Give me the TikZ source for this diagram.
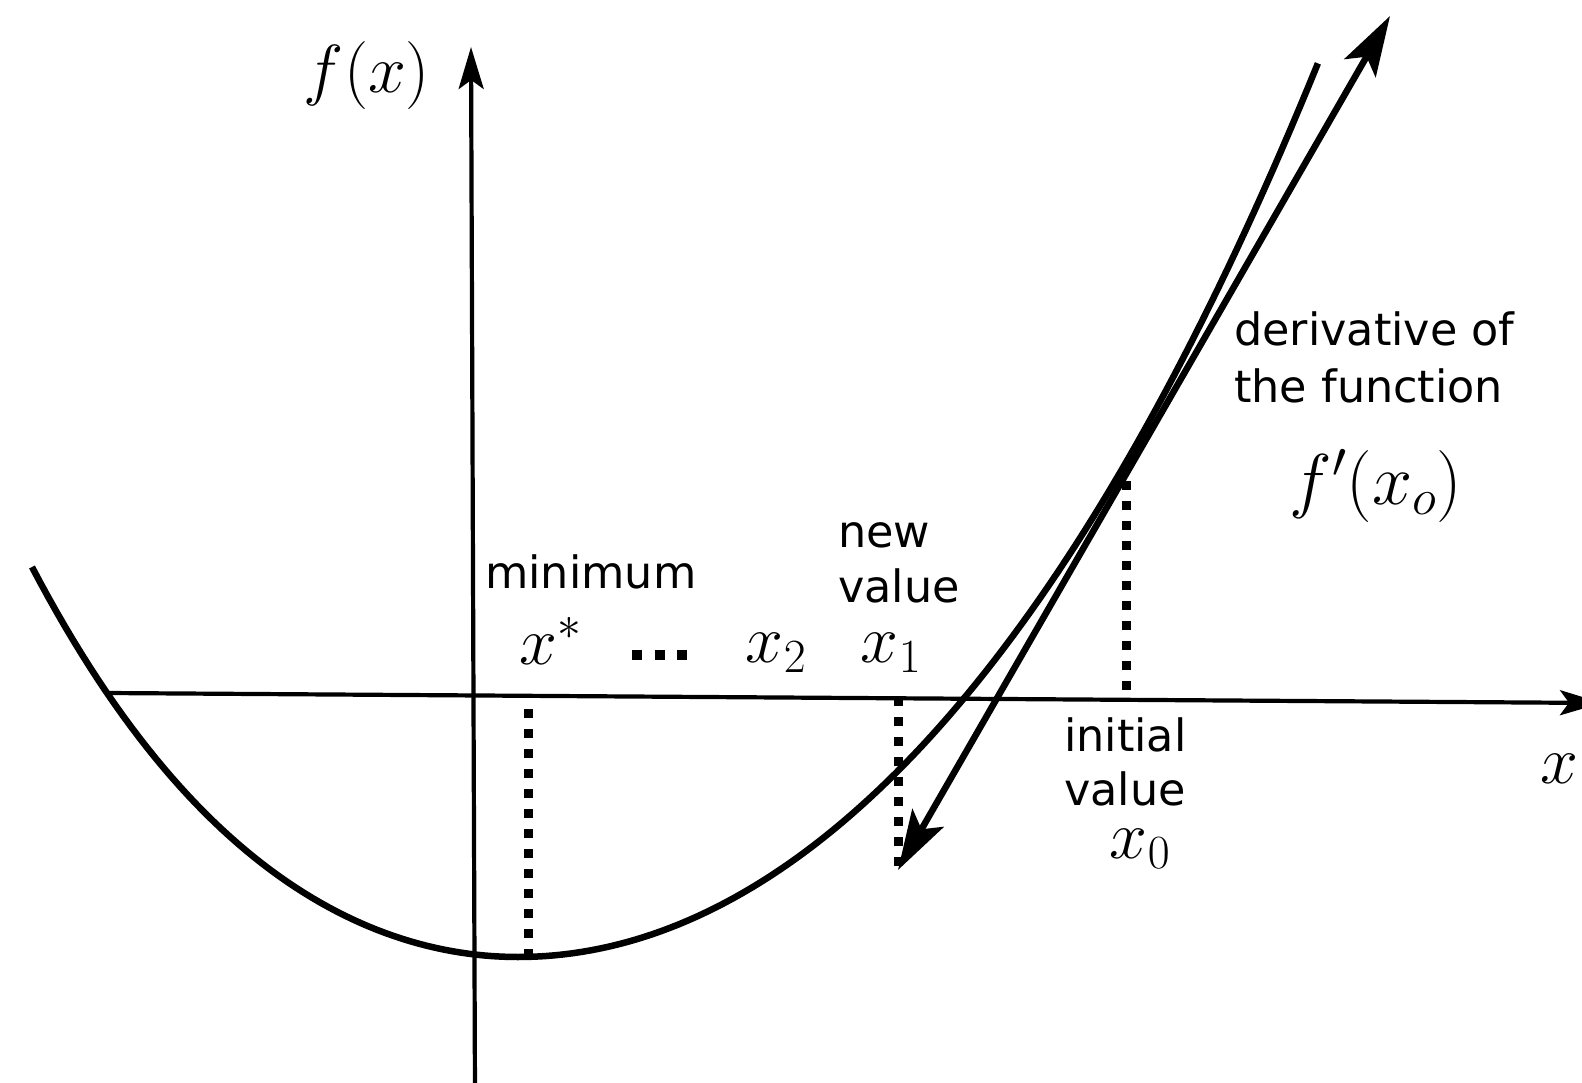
\RequirePackage{fix-cm}
\documentclass[tikz,border=0pt]{standalone}
\usepackage[no-math]{fontspec}
\newfontfamily\dejavu{DejaVu Sans}
\usetikzlibrary{arrows.meta}
\begin{document}
\begin{tikzpicture}[x=1pt,y=-1pt,
  axis/.style={line width=4.2pt, -{Stealth[length=42pt,width=25pt,inset=9pt]}},
  curvestyle/.style={line width=6.5pt, line cap=butt, line join=round},
  tang/.style={line width=6.5pt, {Stealth[length=60pt,width=36pt,inset=13pt]}-{Stealth[length=60pt,width=36pt,inset=13pt]}},
  dotline/.style={line width=9pt, dash pattern=on 9pt off 11pt},
  lbl/.style={font=\dejavu\fontsize{44.5}{52}\selectfont, inner sep=0pt, anchor=base west, text depth=0pt},
  mth/.style={font=\fontsize{68}{72}\selectfont, inner sep=0pt}]
\useasboundingbox (0,0) rectangle (1582,1083);
% axes
\coordinate (xl) at (107,693);
\coordinate (xr) at (1602,703);
\coordinate (yb) at (475,1095);
\coordinate (yt) at (471,47);
\draw[axis] (xl) -- (xr);
\draw[axis] (yb) -- (yt);
% function curve
\draw[curvestyle]
  plot[domain=4.86:0, samples=60, variable=\u]
    ({518-100*\u},{957-13.413*\u*\u-0.1312*\u*\u*\u*\u})
  -- plot[domain=0:8, samples=90, variable=\u]
    ({518+100*\u},{957-12.578*\u*\u-0.02172*\u*\u*\u*\u});
% tangent line
\coordinate (tA) at (898,870);
\coordinate (tB) at (1390,16);
\draw[tang] (tA) -- (tB);
% dotted verticals
\coordinate (d1a) at (528,958); \coordinate (d1b) at (528,703);
\coordinate (d2a) at (898,866); \coordinate (d2b) at (898,699);
\coordinate (d3a) at (1126,690); \coordinate (d3b) at (1126,480);
\draw[dotline] (d1a) -- (d1b);
\draw[dotline] (d2a) -- (d2b);
\draw[dotline] (d3a) -- (d3b);
% ellipsis dots
\coordinate (e1) at (632,655); \coordinate (e2) at (687,655);
\draw[line width=10pt, dash pattern=on 10pt off 12.5pt] (e1) -- (e2);
% labels
\node[mth] (fx) at (367,76) {$f(x)$};
\node[mth] (xlab) at (1559,769) {$x$};
\node[lbl] (minl) at (485,588) {minimum};
\node[mth, anchor=base] (xs) at (551,664) {$x^*$};
\node[mth, anchor=base] (x2) at (776,662) {$x_2$};
\node[mth, anchor=base] (x1) at (891,662) {$x_1$};
\node[lbl] (new1) at (838,547) {new};
\node[lbl] (new2) at (838,602) {value};
\node[lbl] (ini1) at (1064,751) {initial};
\node[lbl] (ini2) at (1064,805) {value};
\node[mth, anchor=base] (x0) at (1140,858) {$x_0$};
\node[lbl] (der1) at (1234,345) {derivative of};
\node[lbl] (der2) at (1234,402) {the function};
\node[mth, font=\fontsize{72}{76}\selectfont] (fpx) at (1376,486) {$f'(x_o)$};
\end{tikzpicture}
\end{document}
